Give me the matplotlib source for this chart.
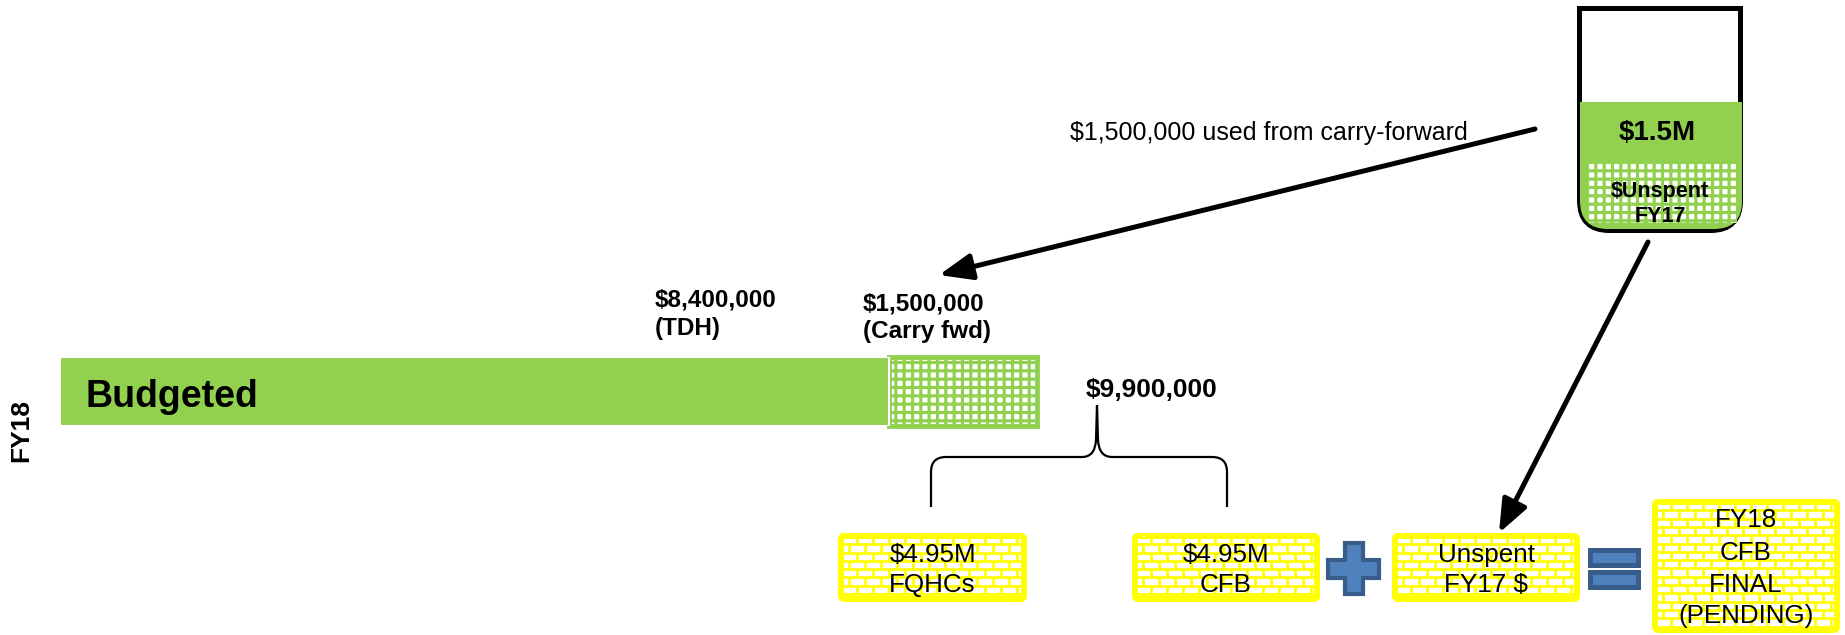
import numpy as np
import matplotlib.pyplot as plt
from matplotlib.patches import Rectangle, FancyBboxPatch, PathPatch, Polygon
from matplotlib.collections import LineCollection
from matplotlib.path import Path

# --- data ---
segments = ['Budgeted', 'Carry fwd']
amounts = [8.4, 1.5]                       # millions of $
amount_labels = ['$8,400,000', '$1,500,000']
source_labels = ['(TDH)', '(Carry fwd)']
total_label = '$9,900,000'
row_label = 'FY18'
split_boxes = [['$4.95M', 'FQHCs'], ['$4.95M', 'CFB']]
unspent_box = ['Unspent', 'FY17 $']
final_box = ['FY18', 'CFB', 'FINAL', '(PENDING)']
cup_labels = ['$1.5M', '$Unspent', 'FY17']
arrow_label = '$1,500,000 used from carry-forward'

GREEN = '#92D050'
YELLOW = '#FFFF00'
BLUE = '#4F81BD'
DBLUE = '#385D8A'
W, H = 1845, 635

plt.rcParams['font.family'] = ['Liberation Sans', 'DejaVu Sans']
plt.rcParams['hatch.linewidth'] = 2.3

fig = plt.figure(figsize=(W / 100, H / 100), dpi=100)

# bar (data axes)
bax = fig.add_axes([60 / W, (H - 426) / H, 977 / W, 69 / H])
bax.barh(0, amounts[1], height=1, left=amounts[0], color='white',
         edgecolor=GREEN, hatch='++', linewidth=3.5, clip_on=False)
bax.barh(0, amounts[0], height=1, left=0, color=GREEN, edgecolor='white', linewidth=1.5)
bax.set_xlim(0, sum(amounts))
bax.set_ylim(-0.5, 0.5)
bax.axis('off')

# overlay in pixel coords
ax = fig.add_axes([0, 0, 1, 1])
ax.set_xlim(0, W)
ax.set_ylim(H, 0)
ax.axis('off')


def txt(x, y, s, size, bold=False, ha='left', **kw):
    ax.text(x, y, s, fontsize=size, fontweight='bold' if bold else 'normal',
            ha=ha, va='baseline', color='black', **kw)


# labels around the bar
txt(86, 407, segments[0], 27, bold=True)
txt(655, 307, amount_labels[0], 17.5, bold=True)
txt(655, 335, source_labels[0], 17.5, bold=True)
txt(863, 310, amount_labels[1], 17.5, bold=True)
txt(863, 338, source_labels[1], 17.5, bold=True)
txt(1152, 397, total_label, 19, bold=True, ha='center')
ax.text(21, 431, row_label, fontsize=19, fontweight='bold', rotation=90,
        ha='center', va='center')

# brace
P = Path
brace_l = Path([(931, 507), (931, 472), (931, 457), (946, 457), (1082, 457),
                (1095, 457), (1096, 440), (1097, 405)],
               [P.MOVETO, P.LINETO, P.CURVE3, P.CURVE3, P.LINETO, P.CURVE3, P.CURVE3, P.LINETO])
brace_r = Path([(1097, 405), (1098, 440), (1099, 457), (1112, 457), (1212, 457),
                (1227, 457), (1227, 472), (1227, 507)],
               [P.MOVETO, P.LINETO, P.CURVE3, P.CURVE3, P.LINETO, P.CURVE3, P.CURVE3, P.LINETO])
for bp in (brace_l, brace_r):
    ax.add_patch(PathPatch(bp, fc='none', ec='black', lw=1.6))


def brick_box(x0, y0, x1, y1, lines, baselines):
    inset = 3
    shape = dict(boxstyle='round,pad=0,rounding_size=3')
    base = FancyBboxPatch((x0 + inset, y0 + inset), x1 - x0 - 2 * inset, y1 - y0 - 2 * inset,
                          fc='white', ec='none', **shape)
    ax.add_patch(base)
    row_h, brick_w = 8.3, 16.0
    ys = np.arange(y0 + inset, y1 + row_h, row_h)
    ax.add_collection(LineCollection([[(x0, y), (x1, y)] for y in ys],
                                     colors=YELLOW, linewidths=2.0, clip_path=base))
    segs = []
    for i in range(len(ys) - 1):
        xs = np.arange(x0 + inset + (i % 2) * brick_w / 2, x1, brick_w)
        segs += [[(x, ys[i]), (x, ys[i + 1])] for x in xs]
    ax.add_collection(LineCollection(segs, colors=YELLOW, linewidths=2.0, clip_path=base))
    ax.add_patch(FancyBboxPatch((x0 + inset, y0 + inset), x1 - x0 - 2 * inset, y1 - y0 - 2 * inset,
                                fc='none', ec=YELLOW, lw=4.3, **shape))
    cx = (x0 + x1) / 2
    for s, b in zip(lines, baselines):
        txt(cx, b, s, 18.7, ha='center')


brick_box(838, 533, 1027, 602, split_boxes[0], [562, 592])
brick_box(1132, 533, 1320, 602, split_boxes[1], [562, 592])
brick_box(1392, 533, 1580, 602, unspent_box, [562, 592])
brick_box(1652, 499, 1840, 633, final_box, [527, 560, 592, 623])

# plus sign
cx, cy, r, a = 1353.5, 568.5, 25.5, 9.0
plus = [(cx - a, cy - r), (cx + a, cy - r), (cx + a, cy - a), (cx + r, cy - a), (cx + r, cy + a),
        (cx + a, cy + a), (cx + a, cy + r), (cx - a, cy + r), (cx - a, cy + a), (cx - r, cy + a),
        (cx - r, cy - a), (cx - a, cy - a)]
ax.add_patch(Polygon(plus, closed=True, fc=BLUE, ec=DBLUE, lw=3.0))

# equals sign
for y in (549.5, 571.5):
    ax.add_patch(Rectangle((1589.5, y), 48, 15.5, fc=BLUE, ec=DBLUE, lw=3.6))


# cup with carry-forward
def cup_path(x0, x1, y0, y1, rr):
    return Path([(x0, y0), (x0, y1 - rr), (x0, y1), (x0 + rr, y1), (x1 - rr, y1),
                 (x1, y1), (x1, y1 - rr), (x1, y0), (x0, y0)],
                [P.MOVETO, P.LINETO, P.CURVE3, P.CURVE3, P.LINETO,
                 P.CURVE3, P.CURVE3, P.LINETO, P.CLOSEPOLY])


ax.add_patch(PathPatch(cup_path(1579.5, 1740.5, 8.5, 230.5, 30), fc='white', ec='black', lw=3.6))
ax.add_patch(PathPatch(cup_path(1580, 1742, 102, 229, 28), fc=GREEN, ec='none'))
ax.add_patch(Rectangle((1588, 164), 149, 59, fc='white', ec=GREEN, lw=0, hatch='++'))
txt(1657, 140, cup_labels[0], 20, bold=True, ha='center')
txt(1660, 197, cup_labels[1], 15.5, bold=True, ha='center')
txt(1660, 222, cup_labels[2], 15.5, bold=True, ha='center')

# arrows
arrow = dict(arrowstyle='-|>,head_length=1.0,head_width=0.4', lw=3.6, color='black',
             mutation_scale=20, shrinkA=0, shrinkB=0)
ax.annotate('', xy=(939, 275), xytext=(1535, 129), arrowprops=arrow)
ax.annotate('', xy=(1499, 533), xytext=(1648, 242), arrowprops=arrow)
txt(1070, 140, arrow_label, 18)

fig.savefig('out.png', dpi=100)
